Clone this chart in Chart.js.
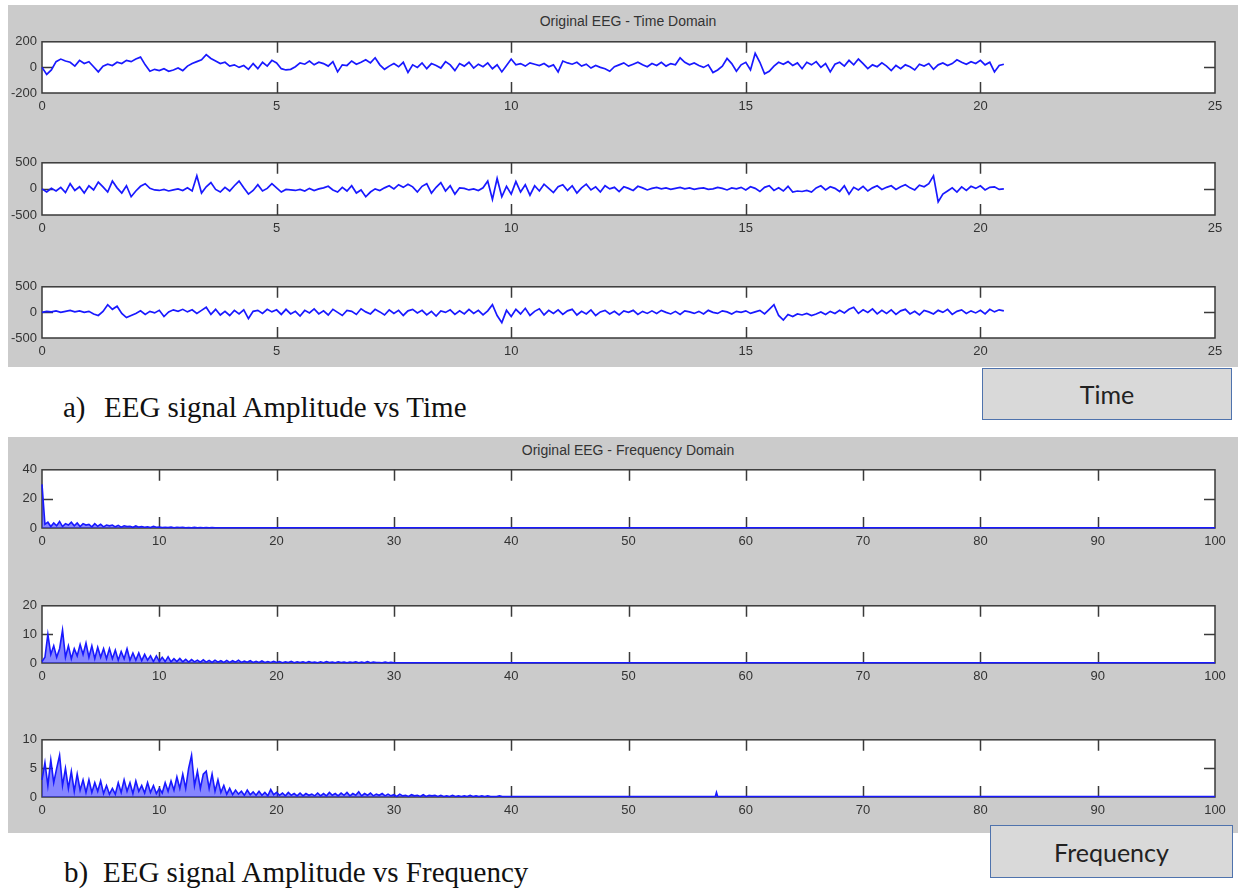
<!DOCTYPE html>
<html>
<head>
<meta charset="utf-8">
<script src="https://cdn.jsdelivr.net/npm/chart.js@4.4.1/dist/chart.umd.min.js"></script>
<style>
  body { margin: 0; width: 1238px; height: 888px; overflow: hidden; background: #fff; position: relative; }
  .panel { position: absolute; background: #cbcbcb; }
  .title { position: absolute; font: 14px "Liberation Sans", Arial, sans-serif; color: #333; width: 400px; text-align: center; }
  canvas { position: absolute; left: 0; }
  .cap { position: absolute; font: 29px "Liberation Serif", "Times New Roman", serif; line-height: 29px; color: #111; white-space: nowrap; }
  .box { position: absolute; box-sizing: border-box; background: #d9d9d9; border: 1.5px solid #4f73ad;
         font: 25px Lato, "Open Sans", sans-serif; color: #222; display: flex; align-items: center; justify-content: center; }
</style>
</head>
<body>
<div class="panel" style="left:8px; top:5px; width:1230px; height:362px;"></div>
<div class="panel" style="left:8px; top:437px; width:1230px; height:396px;"></div>
<div class="title" style="left:428px; top:13px;">Original EEG - Time Domain</div>
<div class="title" style="left:428px; top:442px;">Original EEG - Frequency Domain</div>

<canvas id="t1"></canvas>
<canvas id="t2"></canvas>
<canvas id="t3"></canvas>
<canvas id="f1"></canvas>
<canvas id="f2"></canvas>
<canvas id="f3"></canvas>

<div class="cap" style="left:63px; top:393px;">a)</div>
<div class="cap" style="left:104px; top:393px;">EEG signal Amplitude vs Time</div>
<div class="box" style="left:982px; top:368px; width:250px; height:52px;">Time</div>
<div class="cap" style="left:64px; top:858px;">b)</div>
<div class="cap" style="left:103px; top:858px;">EEG signal Amplitude vs Frequency</div>
<div class="box" style="left:990px; top:825px; width:243px; height:53px;">Frequency</div>

<script>
// time domain: one value every 0.1 s, 0 .. 20.5 s
const TIME_STEP = 0.1;
const timeTicks = [0, 5, 10, 15, 20, 25];

const eeg1 = [
  0, -55, -20, 45, 65, 50, 40, 10, 55, 30,
  45, 5, -35, 10, 25, 15, 40, 30, 55, 45,
  65, 80, 20, -30, -15, -25, -10, -30, -20, -5,
  -25, 10, 30, 45, 60, 100, 70, 50, 30, 40,
  10, 20, 0, 15, -15, 30, -10, 40, 10, 55,
  35, -10, -20, -15, 5, 35, 25, 50, 20, 40,
  30, 10, 45, -35, 20, 15, 50, 25, 40, 60,
  35, 75, 20, -15, 10, 30, 5, 40, -40, 20,
  0, 35, -10, 30, 15, -5, 45, 20, -25, 30,
  10, 40, -5, 25, 5, 35, -10, 20, -35, 15,
  65, 20, 30, 10, 35, 25, 15, 30, 5, 20,
  -35, 50, 35, 25, 40, 10, 25, -5, 15, 0,
  -10, -30, 5, 20, 35, 10, 25, 40, 20, 5,
  30, 15, 40, 10, 30, 20, 75, 40, 20, 35,
  15, 0, 20, -40, -20, 10, 70, 30, -30, 20,
  40, -20, 110, 40, -50, -30, 10, 40, 25, 45,
  15, 35, -10, 40, 20, 45, 0, 30, -35, 25,
  40, 10, 55, 20, 65, 30, -10, 20, 5, 35,
  10, -25, 15, -10, 20, 5, -20, 25, 10, 30,
  -15, 20, 35, 15, 30, 60, 40, 25, 45, 30,
  55, 20, 40, -35, 15, 25
];
const eeg2 = [
  0, -60, 10, -40, 30, -70, 100, -30, 40, -80,
  60, -20, 130, 40, -60, 150, 20, -80, 60, -150,
  -40, 50, 100, 10, -20, -30, -10, -40, -20, 0,
  -30, 20, -40, 250, -80, 40, 120, -10, -60, 30,
  -40, 60, 150, 20, -100, -30, 80, -40, 10, 100,
  20, -60, -10, -20, -30, -10, -40, 10, -30, 0,
  20, 50, -20, -60, 30, -40, 60, -80, -20, -150,
  -60, 0, -30, 20, 60, 0, 80, 30, 90, 40,
  -60, 50, 100, -80, 30, 120, -40, 60, -100, 20,
  10, -20, 0, -30, 20, 150, -200, 200, -150, 50,
  -100, 140, -60, 80, -120, 60, -40, 90, 10, -70,
  40, 80, -30, 60, -80, 20, 90, -20, 40, -60,
  60, 0, 30, -50, 40, 10, -30, 50, 20, -20,
  10, 30, 0, 20, -10, 10, 30, 0, 20, -10,
  10, 20, -10, 0, 30, 10, -20, 20, 0, 30,
  -20, 40, 10, -50, 30, 60, -30, 20, -40, 50,
  -60, -40, -50, -30, -60, 20, 60, -20, 40, 10,
  -50, 60, -100, 30, -20, 50, -40, 20, 60, -10,
  30, 60, -10, 40, 80, 20, -20, 70, 40, 100,
  250, -250, -100, -40, 20, -60, 40, -30, 50, 10,
  60, -20, 30, 40, -10, 0
];
const eeg3 = [
  0, 20, 10, 30, 0, 20, 40, 10, 30, 0,
  20, -30, -60, 20, 150, 60, 120, -20, -100, -60,
  -20, 30, -40, 20, -10, 40, -80, 10, 50, 20,
  60, 10, 50, -20, 40, 100, -40, 60, -50, 20,
  -60, 40, -30, 50, -120, 20, 40, -20, 60, 10,
  50, -40, 60, -30, 20, -70, 40, -10, 70, -30,
  30, -50, 60, 0, -60, 40, 20, -40, 70, 10,
  -30, 60, 10, -50, 50, -20, 40, -60, 30, 60,
  -10, 40, -50, 20, -70, 30, 0, 50, -40, 30,
  -30, 60, -20, 40, -50, 30, 150, -60, -200, 40,
  -80, 60, -30, 80, -60, 20, 70, -50, 40, -20,
  50, -40, 30, 60, -50, 20, -30, 50, -60, 10,
  40, -30, 20, -50, 30, 0, 40, -40, 20, -20,
  30, -20, 40, 0, -30, 20, -40, 30, 10, -20,
  20, -30, 40, 0, -20, 30, 10, -30, 20, 0,
  30, -20, 10, 40, -30, 60, 150, -60, -150, -40,
  -80, -30, -50, -20, -60, -30, 10, -40, 20, -20,
  40, -10, 60, 100, -20, 50, 0, 70, -30, 40,
  -20, 50, -40, 30, 60, -30, 20, -50, 40, 10,
  -30, 40, 0, 60, -40, 20, 50, -20, 30, -10,
  40, -30, 60, 10, 50, 30
];

// frequency domain: one value every 0.25 Hz from 0, then a near-zero tail [Hz, amplitude]
const FREQ_STEP = 0.25;
const freqTicks = [0, 10, 20, 30, 40, 50, 60, 70, 80, 90, 100];

const spec1 = [
  30, 2.5, 4, 1, 3.5, 1.5, 4.5, 1,
  3, 2, 4, 1.5, 3.5, 1, 3, 2,
  2.5, 0.8, 3, 1.2, 2.5, 0.8, 2, 1.5,
  2, 0.8, 1.8, 0.6, 1.5, 1, 1.2, 0.5,
  1.4, 0.6, 1, 0.5, 0.8, 0.4, 1.2, 0.5,
  0.6, 0.3, 0.5, 0.3, 0.6, 0.2, 0.4, 0.3,
  0.4, 0.2, 0.3, 0.2, 0.4, 0.2, 0.3, 0.2,
  0.3, 0.2, 0.3, 0.2, 0.2
];
const spec1Tail = [[100, 0.2]];

const spec2 = [
  0.5, 2, 10, 3, 6, 2, 5, 11.5,
  2, 6, 1.5, 5, 2.5, 6.5, 3, 7,
  2, 6, 1.5, 5.5, 2, 5, 1.5, 5,
  1.5, 4.5, 1, 4, 1.5, 5, 1, 3.5,
  1, 3.5, 0.8, 3, 1, 2.5, 0.5, 2.5,
  0.6, 2, 0.5, 2.2, 0.4, 1.5, 0.5, 1.6,
  0.4, 1.3, 0.3, 1.2, 0.4, 1, 0.3, 1.1,
  0.3, 0.9, 0.2, 1, 0.3, 0.8, 0.2, 0.9,
  0.2, 0.8, 0.3, 1, 0.2, 0.7, 0.3, 0.8,
  0.2, 0.6, 0.2, 0.7, 0.2, 0.5, 0.2, 0.6,
  0.2, 0.5, 0.1, 0.4, 0.2, 0.6, 0.1, 0.4,
  0.2, 0.4, 0.1, 0.5, 0.2, 0.3, 0.1, 0.4,
  0.1, 0.5, 0.2, 0.3, 0.1, 0.4, 0.2, 0.3,
  0.1, 0.3, 0.2, 0.4, 0.1, 0.3, 0.1, 0.5,
  0.1, 0.3, 0.2, 0.2, 0.1, 0.3, 0.1, 0.2,
  0.1
];
const spec2Tail = [[100, 0.1]];

const spec3 = [
  3, 6, 2, 6.5, 2.5, 5, 7.3, 2,
  5, 1.5, 4.5, 1, 4, 1.2, 3, 0.8,
  3, 0.8, 2.5, 1, 2.8, 0.6, 2, 0.5,
  1.5, 0.5, 2.5, 0.8, 3, 1, 2.5, 0.6,
  2.8, 1, 2, 0.7, 2.5, 0.8, 2, 0.6,
  1.5, 0.7, 2.5, 1, 2.8, 1.2, 3.5, 1.5,
  4, 1.5, 5, 7.3, 2, 4.5, 1.5, 4,
  4.5, 1.5, 4, 1, 3, 0.8, 2, 0.5,
  1.5, 0.4, 1.2, 0.5, 1, 0.3, 1.2, 0.4,
  0.9, 0.3, 1, 0.3, 0.8, 0.2, 1.3, 0.4,
  0.8, 0.3, 0.7, 0.2, 0.8, 0.3, 0.6, 0.2,
  0.7, 0.2, 0.6, 0.3, 0.5, 0.2, 0.7, 0.2,
  0.6, 0.2, 0.8, 0.3, 0.6, 0.2, 0.7, 0.3,
  0.8, 0.2, 0.6, 0.3, 0.9, 0.2, 0.6, 0.3,
  0.7, 0.2, 0.5, 0.3, 0.6, 0.2, 0.5, 0.2,
  0.4, 0.1, 0.5, 0.2, 0.3, 0.1, 0.4, 0.2,
  0.3, 0.1, 0.4, 0.1, 0.3, 0.2, 0.3, 0.1,
  0.3, 0.1, 0.2, 0.1, 0.3, 0.1, 0.2, 0.1,
  0.2, 0.1, 0.3, 0.1, 0.2, 0.1, 0.2, 0.1,
  0.2, 0.1, 0.1, 0.1, 0.2, 0.1, 0.1, 0.1,
  0.1
];
const spec3Tail = [[57.4, 0.1], [57.5, 0.8], [57.6, 0.1], [100, 0.1]];

const BLUE = 'rgb(25,25,255)';
const BLUE_FILL = 'rgba(35,35,255,0.55)';
const INK = '#333';
const TICK_FONT = { family: '"Liberation Sans", Arial, sans-serif', size: 13 };

// MATLAB-like axes: white area, dark frame, ticks pointing inward
const matlabAxes = {
  id: 'matlabAxes',
  beforeDraw(chart) {
    const { ctx, chartArea: a } = chart;
    ctx.save();
    ctx.fillStyle = '#fff';
    ctx.fillRect(a.left, a.top, a.width, a.height);
    ctx.restore();
  },
  beforeDatasetsDraw(chart) {
    const { ctx, chartArea: a, scales } = chart;
    const len = 11;
    ctx.save();
    ctx.strokeStyle = '#3a3a3a';
    ctx.lineWidth = 1.5;
    ctx.strokeRect(a.left, a.top, a.width, a.height);
    ctx.beginPath();
    scales.x.ticks.forEach(t => {
      if (t.value <= scales.x.min || t.value >= scales.x.max) return;
      const px = Math.round(scales.x.getPixelForValue(t.value)) + 0.5;
      ctx.moveTo(px, a.bottom); ctx.lineTo(px, a.bottom - len);
      ctx.moveTo(px, a.top); ctx.lineTo(px, a.top + len);
    });
    scales.y.ticks.forEach(t => {
      if (t.value <= scales.y.min || t.value >= scales.y.max) return;
      const py = Math.round(scales.y.getPixelForValue(t.value)) + 0.5;
      ctx.moveTo(a.left, py); ctx.lineTo(a.left + len, py);
      ctx.moveTo(a.right, py); ctx.lineTo(a.right - len, py);
    });
    ctx.stroke();
    ctx.restore();
  }
};

function toPoints(values, step, tail) {
  const pts = values.map((v, i) => ({ x: +(i * step).toFixed(3), y: v }));
  (tail || []).forEach(p => pts.push({ x: p[0], y: p[1] }));
  return pts;
}

function makePlot(id, plotTop, plotHeight, points, xTicks, yMin, yMax, yStep, lineWidth, filled) {
  const canvas = document.getElementById(id);
  const padTop = 10, xAxisH = 26;
  canvas.width = 1238;
  canvas.height = plotHeight + padTop + xAxisH;
  canvas.style.top = (plotTop - padTop) + 'px';
  new Chart(canvas, {
    type: 'line',
    data: {
      datasets: [{
        data: points,
        borderColor: BLUE,
        borderWidth: lineWidth,
        backgroundColor: BLUE_FILL,
        pointRadius: 0,
        tension: 0,
        fill: filled ? 'origin' : false,
        clip: 3
      }]
    },
    options: {
      responsive: false,
      animation: false,
      events: [],
      layout: { padding: { top: padTop, right: 23, left: 0, bottom: 0 } },
      plugins: { legend: { display: false }, tooltip: { enabled: false } },
      scales: {
        x: {
          type: 'linear',
          min: xTicks[0],
          max: xTicks[xTicks.length - 1],
          afterBuildTicks: s => { s.ticks = xTicks.map(v => ({ value: v })); },
          ticks: { color: INK, font: TICK_FONT, padding: 6, maxRotation: 0, autoSkip: false },
          grid: { display: false, drawTicks: false },
          border: { display: false },
          afterFit: s => { s.height = xAxisH; }
        },
        y: {
          min: yMin,
          max: yMax,
          ticks: { stepSize: yStep, color: INK, font: TICK_FONT, padding: 5 },
          grid: { display: false, drawTicks: false },
          border: { display: false },
          afterFit: s => { s.width = 42; }
        }
      }
    },
    plugins: [matlabAxes]
  });
}

makePlot('t1', 39, 54, toPoints(eeg1, TIME_STEP), timeTicks, -200, 200, 200, 1.7, false);
makePlot('t2', 160, 55, toPoints(eeg2, TIME_STEP), timeTicks, -500, 500, 500, 1.7, false);
makePlot('t3', 284, 54, toPoints(eeg3, TIME_STEP), timeTicks, -500, 500, 500, 1.7, false);
makePlot('f1', 467, 61, toPoints(spec1, FREQ_STEP, spec1Tail), freqTicks, 0, 40, 20, 1.6, true);
makePlot('f2', 603, 60, toPoints(spec2, FREQ_STEP, spec2Tail), freqTicks, 0, 20, 10, 1.6, true);
makePlot('f3', 737, 60, toPoints(spec3, FREQ_STEP, spec3Tail), freqTicks, 0, 10, 5, 1.6, true);
</script>
</body>
</html>
